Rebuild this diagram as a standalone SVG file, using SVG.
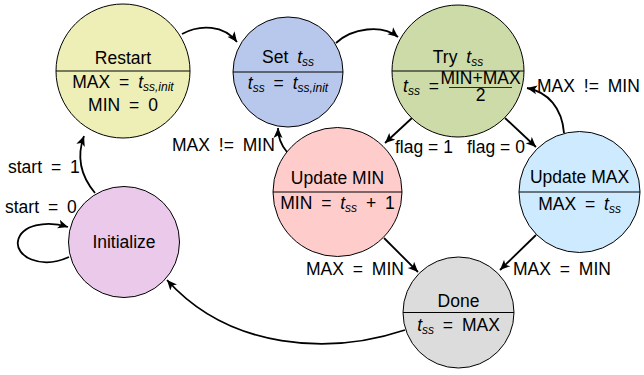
<svg xmlns="http://www.w3.org/2000/svg" width="644" height="375" viewBox="0 0 644 375">
<style>
text{font-family:"Liberation Sans",Arial,sans-serif;font-size:17.5px;fill:#000}
.c{text-anchor:middle}
.m{word-spacing:4px}
.i{font-style:italic}
.s{font-style:italic;font-size:12px}
.node circle{stroke:#000;stroke-width:1}
.div{stroke:#000;stroke-width:1.2}
.edge{fill:none;stroke:#000;stroke-width:1.8;marker-end:url(#arr)}
</style>
<defs>
<marker id="arr" markerUnits="userSpaceOnUse" markerWidth="12" markerHeight="10" refX="10" refY="5" orient="auto">
<path d="M0,0.5 L10,5 L0,9.5 L2.5,5 z" fill="#000"/>
</marker>
</defs>
<rect width="644" height="375" fill="#fff"/>
<g id="connectors">
<path class="edge" d="M182,34 C200,24 224,25 237,42"/>
<path class="edge" d="M336,43 C352,28 382,24 398,37"/>
<path class="edge" d="M412,118 L385,143"/>
<path class="edge" d="M505,118 L536,147"/>
<path class="edge" d="M564,133 C562,108 548,92 527,88"/>
<path class="edge" d="M287,152 C281,145 278,138 278,128"/>
<path class="edge" d="M384,238 L418,272"/>
<path class="edge" d="M536,235 L500,270"/>
<path class="edge" d="M405,330 C330,355 230,350 167,280"/>
<path class="edge" d="M95,193 C80,175 77,155 84,136"/>
<path class="edge" d="M69,257 C40,270 15,256 18,241 C21,225 46,220 68,227"/>
</g>
<g id="labels">
<text class="m" x="537" y="92">MAX != MIN</text>
<text class="m" x="172" y="151">MAX != MIN</text>
<text x="395" y="153">flag = 1</text>
<text x="467" y="153">flag = 0</text>
<text class="m" x="306" y="275">MAX = MIN</text>
<text class="m" x="513" y="275">MAX = MIN</text>
<text class="m" x="8" y="173">start = 1</text>
<text class="m" x="5" y="213">start = 0</text>
</g>
<g id="restart" class="node">
<circle cx="123" cy="71" r="67" fill="#eeeeb7"/>
<line class="div" x1="56" y1="71" x2="190" y2="71"/>
<text class="c" x="123" y="64">Restart</text>
<text class="c m" x="123" y="88">MAX = <tspan class="i">t</tspan><tspan class="s" dy="3">ss,init</tspan></text>
<text class="c m" x="123" y="111">MIN = 0</text>
</g>
<g id="set" class="node">
<circle cx="288" cy="72" r="55" fill="#b8c8ec"/>
<line class="div" x1="233" y1="72" x2="343" y2="72"/>
<text class="c m" x="288" y="63">Set <tspan class="i">t</tspan><tspan class="s" dy="2.5">ss</tspan></text>
<text class="c m" x="288" y="89"><tspan class="i">t</tspan><tspan class="s" dy="3">ss</tspan><tspan dy="-3"> = </tspan><tspan class="i">t</tspan><tspan class="s" dy="3">ss,init</tspan></text>
</g>
<g id="try" class="node">
<circle cx="458" cy="71" r="66" fill="#cddba8"/>
<line class="div" x1="392" y1="71" x2="524" y2="71"/>
<text class="c m" x="458" y="63">Try <tspan class="i">t</tspan><tspan class="s" dy="2.5">ss</tspan></text>
<text class="m" x="403" y="92"><tspan class="i">t</tspan><tspan class="s" dy="3">ss</tspan><tspan dy="-3"> =</tspan></text>
<text class="c" x="480.5" y="83.5" font-size="11">MIN+MAX</text>
<line x1="449" y1="87.5" x2="512" y2="87.5" stroke="#000" stroke-width="0.8"/>
<text class="c" x="480.5" y="101" font-size="11">2</text>
</g>
<g id="update-min" class="node">
<circle cx="337.5" cy="192" r="64.5" fill="#ffcccc"/>
<line class="div" x1="273" y1="192" x2="402" y2="192" stroke="#7a5c5c"/>
<text class="c" x="337.5" y="184">Update MIN</text>
<text class="c m" x="337.5" y="209">MIN = <tspan class="i">t</tspan><tspan class="s" dy="3">ss</tspan><tspan dy="-3"> + 1</tspan></text>
</g>
<g id="update-max" class="node">
<circle cx="579.5" cy="192" r="60.5" fill="#cdeaff"/>
<line class="div" x1="519" y1="192" x2="640" y2="192" stroke="#52697a"/>
<text class="c" x="579.5" y="183">Update MAX</text>
<text class="c m" x="579.5" y="210">MAX = <tspan class="i">t</tspan><tspan class="s" dy="3">ss</tspan></text>
</g>
<g id="initialize" class="node">
<circle cx="124" cy="242" r="55.5" fill="#ebc9ea"/>
<text class="c" x="124" y="248">Initialize</text>
</g>
<g id="done" class="node">
<circle cx="458.5" cy="312.5" r="55.5" fill="#dcdcdc"/>
<line class="div" x1="403" y1="312.5" x2="514" y2="312.5"/>
<text class="c" x="458.5" y="307">Done</text>
<text class="c m" x="458.5" y="331"><tspan class="i">t</tspan><tspan class="s" dy="3">ss</tspan><tspan dy="-3"> = MAX</tspan></text>
</g>
</svg>
